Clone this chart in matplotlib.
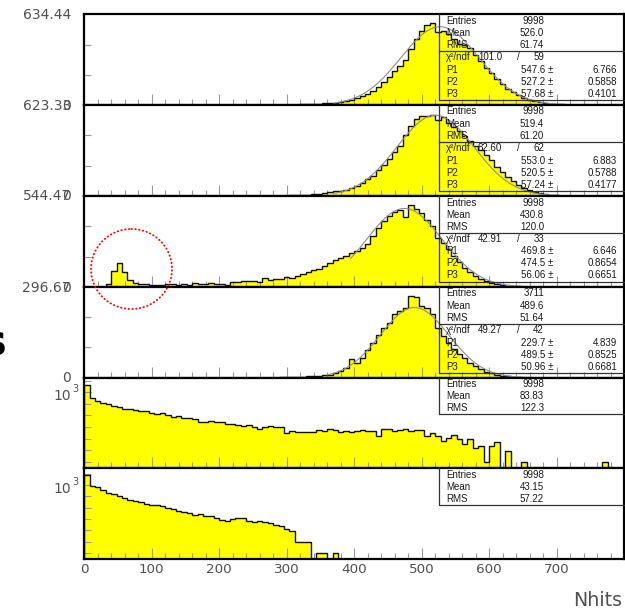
import numpy as np
import matplotlib
matplotlib.use("Agg")
import matplotlib.pyplot as plt
from matplotlib.patches import Ellipse

# ---------------- data (100 bins of width 8 from 0 to 800) ----------------
bin_edges = np.arange(0, 801, 8)

p1_counts = [0, 0, 0, 0, 0, 0, 0, 0, 0, 0,
             0, 0, 0, 0, 0, 0, 0, 2, 0, 0,
             0, 0, 0, 0, 0, 0, 0, 0, 0, 0,
             0, 0, 0, 0, 0, 0, 1, 2, 2, 3,
             4, 5, 7, 9, 11, 14, 17, 22, 29, 36,
             47, 62, 80, 100, 128, 158, 196, 236, 276, 318,
             390, 465, 515, 560, 572, 512, 515, 495, 462, 430,
             418, 400, 352, 305, 262, 222, 185, 148, 112, 88,
             68, 50, 38, 27, 19, 13, 9, 6, 4, 3,
             2, 1, 0, 0, 0, 0, 0, 0, 0, 0]

p2_counts = [0, 0, 0, 0, 0, 0, 0, 0, 0, 0,
             0, 0, 0, 0, 0, 0, 0, 2, 2, 0,
             0, 0, 0, 0, 0, 0, 0, 0, 0, 0,
             0, 0, 0, 0, 0, 0, 2, 3, 4, 6,
             8, 10, 13, 17, 21, 26, 31, 37, 44, 54,
             68, 90, 114, 140, 175, 212, 255, 300, 345, 420,
             478, 525, 550, 545, 552, 520, 540, 500, 470, 445,
             410, 378, 345, 315, 282, 245, 200, 165, 130, 100,
             78, 58, 42, 30, 20, 13, 8, 5, 3, 2,
             1, 0, 0, 0, 0, 0, 0, 0, 0, 0]

p3_counts = [0, 0, 0, 0, 16, 96, 145, 90, 40, 24,
             20, 16, 14, 12, 14, 18, 16, 14, 16, 14,
             22, 20, 20, 22, 20, 20, 14, 28, 30, 34,
             36, 34, 30, 52, 40, 46, 50, 58, 56, 66,
             76, 90, 102, 110, 126, 146, 160, 175, 185, 201,
             215, 235, 255, 305, 355, 395, 425, 449, 460, 421,
             488, 469, 445, 400, 365, 295, 265, 225, 185, 150,
             116, 90, 66, 50, 36, 26, 18, 12, 8, 5,
             3, 2, 1, 0, 0, 0, 0, 0, 0, 0,
             0, 0, 0, 0, 0, 0, 0, 0, 0, 0]

p4_counts = [0, 0, 0, 0, 0, 0, 0, 0, 0, 0,
             0, 0, 0, 0, 0, 0, 0, 0, 0, 0,
             0, 0, 0, 0, 0, 0, 0, 0, 0, 0,
             0, 0, 0, 0, 0, 0, 1, 1, 2, 2,
             3, 4, 5, 6, 8, 10, 16, 21, 32, 60,
             49, 65, 90, 114, 141, 163, 180, 207, 218, 229,
             267, 265, 234, 229, 207, 163, 136, 114, 95, 79,
             65, 49, 38, 27, 19, 14, 9, 6, 4, 2,
             1, 0, 0, 0, 0, 0, 0, 0, 0, 0,
             0, 0, 0, 0, 0, 0, 0, 0, 0, 0]

p5_counts = [2100, 543, 417, 330, 300, 263, 223, 195, 183, 171,
             160, 150, 131, 115, 123, 104, 89, 95, 80, 75,
             68, 54, 51, 58, 54, 51, 42, 43, 39, 36,
             39, 33, 26, 32, 34, 31, 33, 17, 21, 20,
             19, 20, 20, 24, 21, 25, 23, 20, 21, 20,
             22, 23, 22, 22, 13, 26, 26, 21, 24, 25,
             21, 23, 23, 13, 17, 13, 8, 11, 14, 10,
             6, 10, 4, 5, 1, 5, 7, 0, 3, 0,
             0, 1, 0, 0, 0, 0, 0, 0, 0, 0,
             0, 0, 0, 0, 0, 0, 1, 0, 0, 0]

p6_counts = [2800, 915, 800, 616, 470, 392, 333, 283, 223, 200,
             174, 153, 138, 129, 120, 102, 86, 75, 65, 57,
             47, 52, 45, 44, 37, 29, 27, 31, 36, 36,
             25, 24, 26, 23, 21, 17, 15, 12, 9, 3,
             3, 3, 0, 1, 1, 0, 1, 0, 0, 0,
             0, 0, 0, 0, 0, 0, 0, 0, 0, 0,
             0, 0, 0, 0, 0, 0, 0, 0, 0, 0,
             0, 0, 0, 0, 0, 0, 0, 0, 0, 0,
             0, 0, 0, 0, 0, 0, 0, 0, 0, 0,
             0, 0, 0, 0, 0, 0, 0, 0, 0, 0]

# linear panels: y maximum label; log panels: y range
lin_ymax = [634.44, 623.33, 544.47, 296.67]
lin_ymax_labels = ["634.44", "623.33", "544.47", "296.67"]
log_ylim = [(0.5336, 4198.0), (0.533, 5534.0)]

# statistics boxes
stat_entries = ["9998", "9998", "9998", "3711", "9998", "9998"]
stat_mean = ["526.0", "519.4", "430.8", "489.6", "83.83", "43.15"]
stat_rms = ["61.74", "61.20", "120.0", "51.64", "122.3", "57.22"]
fit_chi2 = ["101.0", "82.60", "42.91", "49.27"]
fit_ndf = ["59", "62", "33", "42"]
fit_p1 = [547.6, 553.0, 469.8, 229.7]
fit_p2 = [527.2, 520.5, 474.5, 489.5]
fit_p3 = [57.68, 57.24, 56.06, 50.96]
fit_p1_err = ["6.766", "6.883", "6.646", "4.839"]
fit_p2_err = ["0.5858", "0.5788", "0.8654", "0.8525"]
fit_p3_err = ["0.4101", "0.4177", "0.6651", "0.6681"]
fit_range = [(370, 720), (370, 720), (395, 700), (360, 690)]

x_ticklabels = ["0", "100", "200", "300", "400", "500", "600", "700", ""]
x_title = "Nhits"

# ---------------- figure ----------------
W, H = 625, 613
fig = plt.figure(figsize=(W / 100, H / 100), dpi=100)
fig.patch.set_facecolor("white")

bounds = [14.3, 105.0, 196.0, 287.0, 377.7, 468.3, 559.3]
xl, xr = 84.3, 624.0
all_counts = [p1_counts, p2_counts, p3_counts, p4_counts, p5_counts, p6_counts]
label_color = "#505050"
tick_color = "#999999"

axes = []
for k in range(6):
    top, bot = bounds[k], bounds[k + 1]
    ax = fig.add_axes([xl / W, 1 - bot / H, (xr - xl) / W, (bot - top) / H])
    axes.append(ax)
    vals = np.array(all_counts[k], dtype=float)
    if k < 4:
        base = 0.0
        v = vals
        ax.set_ylim(0, lin_ymax[k])
        ax.set_yticks([lin_ymax[k] / 3, 2 * lin_ymax[k] / 3])
    else:
        lo, hi = log_ylim[k - 4]
        base = lo * 0.3
        v = np.where(vals > 0, vals, base)
        ax.set_yscale("log")
        ax.set_ylim(lo, hi)
        ax.set_yticks([10 ** (j / 2) for j in range(8)])
        ax.yaxis.set_minor_locator(matplotlib.ticker.NullLocator())
    ax.stairs(v, bin_edges, baseline=base, fill=True, color="#ffff00", zorder=1)
    ax.stairs(v, bin_edges, baseline=base, fill=False, color="#111111", lw=1.0, zorder=2)
    if k < 4:
        a, m, s = fit_p1[k], fit_p2[k], fit_p3[k]
        xs = np.linspace(fit_range[k][0], fit_range[k][1], 400)
        ax.plot(xs, a * np.exp(-0.5 * ((xs - m) / s) ** 2), color="#8c8c8c", lw=0.8, zorder=3)
    ax.set_xlim(0, 800)
    ax.set_xticks(np.arange(0, 801, 100))
    ax.set_xticks(np.arange(0, 801, 20), minor=True)
    ax.tick_params(axis="x", which="major", direction="in", length=8, width=0.8, color=tick_color)
    ax.tick_params(axis="x", which="minor", direction="in", length=4, width=0.8, color=tick_color)
    ax.tick_params(axis="y", which="both", direction="in", length=5, width=0.8, color=tick_color,
                   labelleft=False)
    if k == 5:
        ax.set_xticklabels(x_ticklabels)
        ax.tick_params(axis="x", which="major", labelsize=9.7, labelcolor=label_color, pad=3)
    else:
        ax.tick_params(axis="x", labelbottom=False)
    for sp in ax.spines.values():
        sp.set_linewidth(1.6)
        sp.set_color("black")

# ---------------- overlay in pixel coordinates ----------------
ov = fig.add_axes([0, 0, 1, 1], zorder=10)
ov.set_xlim(0, W)
ov.set_ylim(H, 0)
ov.axis("off")
ov.patch.set_alpha(0)

# y axis labels of the linear panels
for k in range(4):
    ov.text(70.8, bounds[k] + 0.5, lin_ymax_labels[k], ha="right", va="center",
            fontsize=10, color=label_color)
    ov.text(70.8, bounds[k + 1] + 0.5, "0", ha="right", va="center",
            fontsize=10, color=label_color)

# y axis labels of the log panels (10^3)
for k in (4, 5):
    ax = axes[k]
    ypix = H - ax.transData.transform((0, 1000))[1]
    ov.text(71, ypix + 3.5, "10", ha="right", va="center", fontsize=10, color=label_color)
    ov.text(72.5, ypix - 3.0, "3", ha="left", va="center", fontsize=7, color=label_color)

# statistics boxes
bx0, bx1 = 439.3, 624.0
txt_kw = dict(fontsize=7, color="#1a1a1a", family="Liberation Sans", va="center")
box_lc = "#333333"
for k in range(6):
    T = bounds[k]
    h = 86.0 if k < 4 else 36.6
    ov.plot([bx0, bx0, bx1], [T, T + h, T + h], color=box_lc, lw=0.9)
    rows = [("Entries", stat_entries[k]), ("Mean", stat_mean[k]), ("RMS", stat_rms[k])]
    for r, (name, val) in enumerate(rows):
        y = T + 6.5 + 12.1 * r
        ov.text(446, y, name, ha="left", **txt_kw)
        ov.text(544, y, val, ha="right", **txt_kw)
    if k < 4:
        ov.plot([bx0, bx1], [T + 37, T + 37], color=box_lc, lw=0.9)
        y = T + 43
        ov.text(446, y, "\u03c7\u00b2/ndf", ha="left", **txt_kw)
        ov.text(502, y, fit_chi2[k], ha="right", **txt_kw)
        ov.text(518, y, "/", ha="center", **txt_kw)
        ov.text(544, y, fit_ndf[k], ha="right", **txt_kw)
        pars = [("P1", "%.1f" % fit_p1[k], fit_p1_err[k]),
                ("P2", "%.1f" % fit_p2[k], fit_p2_err[k]),
                ("P3", "%.2f" % fit_p3[k], fit_p3_err[k])]
        for r, (name, val, err) in enumerate(pars):
            y = T + 55.5 + 12.0 * r
            ov.text(446, y, name, ha="left", **txt_kw)
            ov.text(553.5, y, val + " \u00b1", ha="right", **txt_kw)
            ov.text(617, y, err, ha="right", **txt_kw)

# x axis title
ov.text(622.5, 600, x_title, ha="right", va="center", fontsize=13.7, color=label_color)

# stray large letter at the left edge
ov.text(7, 355, "s", ha="right", va="baseline", fontsize=30, fontweight="bold", color="black")

# red dotted circle
circ = Ellipse((131.5, 269.0), 81, 80, fill=False, edgecolor="red", lw=1.3,
               linestyle=(0, (0.3, 1.8)), capstyle="round")
ov.add_patch(circ)

fig.savefig("out.png", dpi=100, facecolor="white")
